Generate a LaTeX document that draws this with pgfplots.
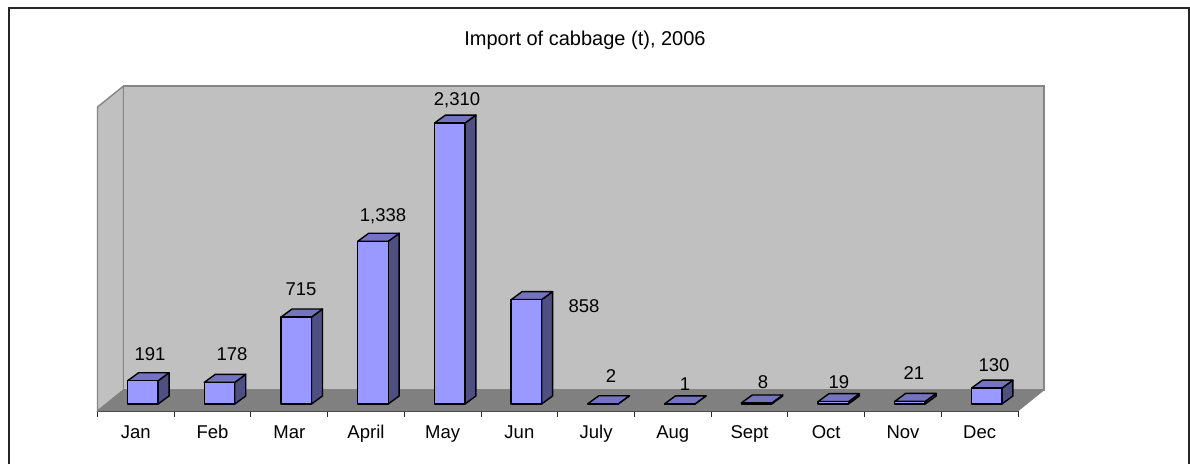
\documentclass[border=0pt]{standalone}
\usepackage{pgfplots}
\pgfplotsset{compat=1.18}
\usepackage{pgfplotstable}
\usepackage{fontspec}
\setmainfont{Liberation Sans}
\definecolor{wall}{HTML}{C0C0C0}
\definecolor{wallline}{HTML}{868686}
\definecolor{floorc}{HTML}{808080}
\definecolor{barfront}{HTML}{9999FF}
\definecolor{barside}{HTML}{4F4F82}
\definecolor{bartop}{HTML}{7373C0}
% label positions are in reference pixels
\pgfplotstableread{
px py lab
150 354 191
232 354 178
301 289 715
383 216 {1,338}
457 100 {2,310}
584 306 858
611 376 2
685 384 1
763 382 8
839 382 19
914 373 21
994 365 130
}\labels
\def\dxb{0.091}  % bar offset from the front of the floor
\def\hw{0.1987}  % half bar width
\def\ybase{57.6} % bar base above the front of the floor
\def\ddx{0.1433} % bar depth, x
\def\ddy{66}     % bar depth, y
\newcommand\tdbar[2]{%
  \pgfmathsetmacro\xl{#1+\dxb-\hw}%
  \pgfmathsetmacro\xr{#1+\dxb+\hw}%
  \pgfmathsetmacro\xbl{\xl+\ddx}%
  \pgfmathsetmacro\xbr{\xr+\ddx}%
  \pgfmathsetmacro\yb{\ybase}%
  \pgfmathsetmacro\yt{\ybase+#2}%
  \pgfmathsetmacro\ybb{\yb+\ddy}%
  \pgfmathsetmacro\ytb{\yt+\ddy}%
  \edef\temp{%
    \noexpand\addplot[barline,fill=barside] coordinates {(\xr,\yb) (\xbr,\ybb) (\xbr,\ytb) (\xr,\yt)} --cycle;
    \noexpand\addplot[barline,fill=bartop] coordinates {(\xl,\yt) (\xr,\yt) (\xbr,\ytb) (\xbl,\ytb)} --cycle;
    \noexpand\addplot[barline,fill=barfront] coordinates {(\xl,\yb) (\xr,\yb) (\xr,\yt) (\xl,\yt)} --cycle;
  }\temp
}
\begin{document}
\begin{tikzpicture}[x=1pt,y=1pt]
\path[use as bounding box] (0,0) rectangle (1190,464);
\fill[white] (0,0) rectangle (1190,464);
\draw[line width=1.4pt,color=black!85] (9,0) -- (9,456) -- (1189,456) -- (1189,0);
\begin{axis}[
  at={(97.5pt,53pt)},anchor=south west,
  scale only axis,width=920.5pt,height=304pt,
  xmin=-0.5,xmax=11.5,ymin=0,ymax=2500,
  clip=false,
  axis x line=bottom,axis y line=none,
  x axis line style={-,line width=1.4pt,color=black!85},
  xtick={0,...,11},
  xticklabels={Jan,Feb,Mar,April,May,Jun,July,Aug,Sept,Oct,Nov,Dec},
  minor xtick={-0.5,0.5,...,11.5},
  tick align=outside,
  major tick length=0pt,minor tick length=5.5pt,
  minor tick style={line width=1pt,color=black!85},
  xticklabel style={font=\fontsize{18.5}{21}\selectfont,anchor=base,yshift=-27pt},
  title={Import of cabbage (t), 2006},
  every axis title shift=0pt,
  title style={font=\fontsize{20}{24}\selectfont,at={(0.5296,1.220)},anchor=center},
  barline/.style={draw=black,line width=1.4pt,line join=round,mark=none},
]
% left wall, back wall, floor (x in categories, y in tonnes)
\addplot[fill=wall,draw=wallline,line width=1.4pt,mark=none] coordinates {(-0.5,0) (-0.161,172.7) (-0.161,2672.7) (-0.5,2500)} --cycle;
\addplot[fill=wall,draw=wallline,line width=1.6pt,mark=none] coordinates {(-0.161,172.7) (11.839,172.7) (11.839,2672.7) (-0.161,2672.7)} --cycle;
\addplot[fill=floorc,draw=floorc,line width=0.6pt,mark=none] coordinates {(-0.5,0) (11.5,0) (11.839,172.7) (-0.161,172.7)} --cycle;
\tdbar{0}{191}
\tdbar{1}{178}
\tdbar{2}{715}
\tdbar{3}{1338}
\tdbar{4}{2310}
\tdbar{5}{858}
\tdbar{6}{2}
\tdbar{7}{1}
\tdbar{8}{8}
\tdbar{9}{19}
\tdbar{10}{21}
\tdbar{11}{130}
\addplot[draw=none,mark=none,nodes near coords,point meta=explicit symbolic,
  every node near coord/.append style={anchor=center,font=\fontsize{18.5}{21}\selectfont,inner sep=0pt,text=black}]
  table[x expr=(\thisrow{px}-135.875)/76.7083,y expr=(411-\thisrow{py})/0.1216,meta=lab]{\labels};
\end{axis}
\end{tikzpicture}
\end{document}
